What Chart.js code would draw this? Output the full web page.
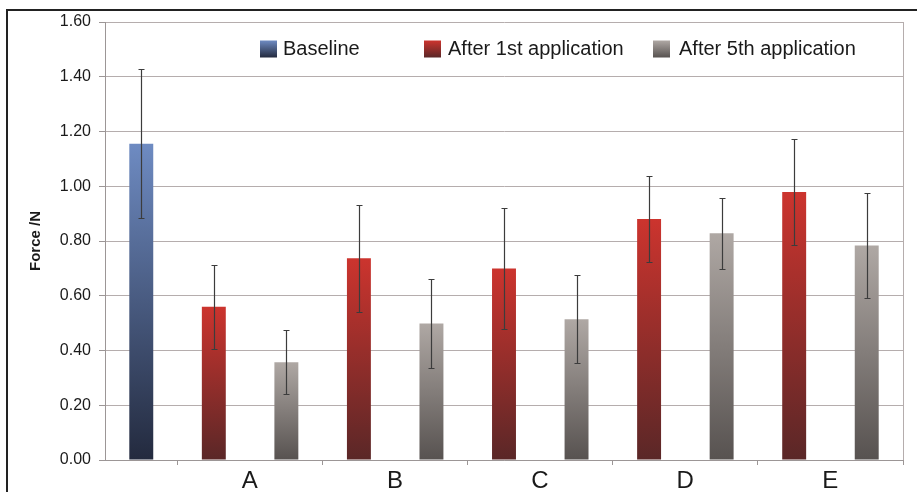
<!DOCTYPE html>
<html>
<head>
<meta charset="utf-8">
<script src="https://cdn.jsdelivr.net/npm/chart.js@4"></script>
<style>
  html, body { margin: 0; padding: 0; background: #fff; }
  #wrap { width: 917px; height: 492px; position: relative; }
</style>
</head>
<body>
<div id="wrap"><canvas id="forceChart"></canvas></div>
<script>
// mean force and error per group
const categories = ['A', 'B', 'C', 'D', 'E'];
const baselineMean = 1.155;
const baselineErr = 0.272;
const firstMeans = [0.560, 0.737, 0.700, 0.880, 0.979];
const firstErr = [0.154, 0.196, 0.222, 0.157, 0.193];
const fifthMeans = [0.357, 0.499, 0.514, 0.828, 0.784];
const fifthErr = [0.117, 0.164, 0.160, 0.130, 0.192];
const yMax = 1.6;
const yStep = 0.2;

const corTexto = '#1a1a1a';
const corGrade = '#b5adad';
const corEixo = '#9c9696';

// one slot for baseline, then two slots (1st / 5th) per group
const nSlots = 1 + categories.length * 2;
const slotLabels = new Array(nSlots).fill('');
const baseData = new Array(nSlots).fill(null);
const baseErrs = new Array(nSlots).fill(null);
const firstData = new Array(nSlots).fill(null);
const firstErrs = new Array(nSlots).fill(null);
const fifthData = new Array(nSlots).fill(null);
const fifthErrs = new Array(nSlots).fill(null);
baseData[0] = baselineMean;
baseErrs[0] = baselineErr;
categories.forEach((c, i) => {
  slotLabels[2 * i + 1] = c;
  firstData[2 * i + 1] = firstMeans[i];
  firstErrs[2 * i + 1] = firstErr[i];
  fifthData[2 * i + 2] = fifthMeans[i];
  fifthErrs[2 * i + 2] = fifthErr[i];
});

// vertical gradient per bar, light at the top, dark at the base
function barGradient(top, bottom) {
  return (c) => {
    const chart = c.chart;
    if (!chart.chartArea || c.raw == null) return bottom;
    const y = chart.scales.y;
    const g = chart.ctx.createLinearGradient(0, y.getPixelForValue(c.raw), 0, y.getPixelForValue(0));
    g.addColorStop(0, top);
    g.addColorStop(1, bottom);
    return g;
  };
}

const moldura = {
  id: 'moldura',
  beforeDraw(chart) {
    const ctx = chart.ctx;
    ctx.save();
    ctx.fillStyle = '#fff';
    ctx.fillRect(0, 0, chart.width, chart.height);
    ctx.strokeStyle = '#222';
    ctx.lineWidth = 2;
    ctx.beginPath();
    ctx.moveTo(7, chart.height);
    ctx.lineTo(7, 10);
    ctx.lineTo(chart.width, 10);
    ctx.stroke();
    ctx.restore();
  }
};

const barrasErro = {
  id: 'barrasErro',
  afterDatasetsDraw(chart) {
    const ctx = chart.ctx;
    const y = chart.scales.y;
    ctx.save();
    ctx.strokeStyle = '#3c3c3c';
    ctx.lineWidth = 1.2;
    chart.data.datasets.forEach((ds, di) => {
      chart.getDatasetMeta(di).data.forEach((bar, i) => {
        const v = ds.data[i];
        const e = ds.errors[i];
        if (v == null || e == null) return;
        const x = Math.round(bar.x) + 0.5;
        const yt = Math.round(y.getPixelForValue(v + e)) + 0.5;
        const yb = Math.round(y.getPixelForValue(v - e)) + 0.5;
        ctx.beginPath();
        ctx.moveTo(x, yt); ctx.lineTo(x, yb);
        ctx.moveTo(x - 3, yt); ctx.lineTo(x + 3, yt);
        ctx.moveTo(x - 3, yb); ctx.lineTo(x + 3, yb);
        ctx.stroke();
      });
    });
    ctx.restore();
  }
};

// legend drawn inside the plot, along the top band
const legendaTopo = {
  id: 'legendaTopo',
  afterDraw(chart, args, opts) {
    const ctx = chart.ctx;
    ctx.save();
    ctx.font = '20px "Liberation Sans", Arial, sans-serif';
    ctx.textBaseline = 'middle';
    chart.data.datasets.forEach((ds, i) => {
      const x = opts.boxX[i];
      const g = ctx.createLinearGradient(0, opts.y - 8.5, 0, opts.y + 8.5);
      g.addColorStop(0, ds.gradTop);
      g.addColorStop(1, ds.gradBottom);
      ctx.fillStyle = g;
      ctx.fillRect(x, opts.y - 8.5, 17, 17);
      ctx.fillStyle = corTexto;
      ctx.fillText(ds.label, opts.textX[i], opts.y);
    });
    ctx.restore();
  }
};

Chart.defaults.font.family = '"Liberation Sans", Arial, sans-serif';

new Chart(document.getElementById('forceChart'), {
  type: 'bar',
  data: {
    labels: slotLabels,
    datasets: [
      {
        label: 'Baseline',
        data: baseData,
        errors: baseErrs,
        gradTop: '#6e8bc2', gradBottom: '#232a3e',
        backgroundColor: barGradient('#6e8bc2', '#232a3e')
      },
      {
        label: 'After 1st application',
        data: firstData,
        errors: firstErrs,
        gradTop: '#cc342e', gradBottom: '#5a2727',
        backgroundColor: barGradient('#cc342e', '#5a2727')
      },
      {
        label: 'After 5th application',
        data: fifthData,
        errors: fifthErrs,
        gradTop: '#afa8a4', gradBottom: '#575250',
        backgroundColor: barGradient('#afa8a4', '#575250')
      }
    ]
  },
  options: {
    responsive: true,
    maintainAspectRatio: false,
    animation: false,
    skipNull: true,
    categoryPercentage: 1,
    barPercentage: 0.33,
    layout: { padding: { top: 22, right: 14, left: 0, bottom: 0 } },
    plugins: {
      legend: { display: false },
      tooltip: { enabled: false },
      legendaTopo: { y: 49, boxX: [260, 424, 653], textX: [283, 448, 679] }
    },
    scales: {
      x: {
        offset: true,
        grid: {
          offset: true,
          tickLength: 5,
          color: (c) => c.index === undefined ? corGrade : 'transparent',
          tickColor: (c) => (c.index === undefined || c.index % 2 === 1) ? corEixo : 'transparent'
        },
        border: { color: corEixo },
        ticks: {
          autoSkip: false,
          maxRotation: 0,
          labelOffset: 36,
          padding: 2,
          color: corTexto,
          font: { size: 24 }
        },
        afterFit: (s) => { s.height = 32; }
      },
      y: {
        min: 0,
        max: yMax,
        grid: { color: corGrade, tickLength: 6, tickColor: corEixo },
        border: { color: corEixo },
        ticks: {
          stepSize: yStep,
          padding: 8,
          color: corTexto,
          font: { size: 16 },
          callback: (v) => Number(v).toFixed(2)
        },
        title: {
          display: true,
          text: 'Force /N',
          color: corTexto,
          font: { size: 15, weight: 'bold' },
          padding: { top: 27, bottom: 0 }
        },
        afterFit: (s) => { s.width = 105; }
      }
    }
  },
  plugins: [moldura, barrasErro, legendaTopo]
});
</script>
</body>
</html>
